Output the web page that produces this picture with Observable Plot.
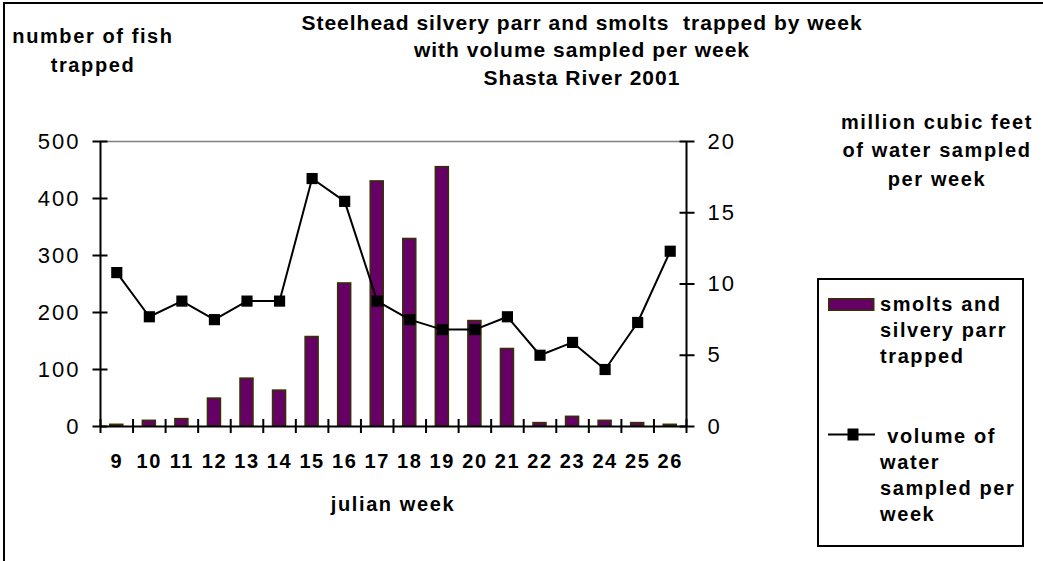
<!DOCTYPE html>
<html>
<head>
<meta charset="utf-8">
<script src="https://cdn.jsdelivr.net/npm/d3@7"></script>
<script src="https://cdn.jsdelivr.net/npm/@observablehq/plot@0.6"></script>
<style>
  html, body { margin: 0; padding: 0; background: #fff; }
  #wrap { position: relative; width: 1043px; height: 561px; overflow: hidden;
          font-family: "Liberation Sans", Arial, sans-serif; color: #000; }
  #frame { position: absolute; left: 3px; top: 2px; width: 1100px; height: 600px;
           border-top: 2px solid #000; border-left: 2px solid #000; }
  #chart { position: absolute; left: 0; top: 0; }
  .lbl { position: absolute; font-weight: bold; font-size: 20px; letter-spacing: 1.6px;
         text-align: center; white-space: pre; }
  #title { left: 232px; width: 700px; top: 8.5px; line-height: 27.5px; font-size: 21px; letter-spacing: 1px; }
  #ylab { left: 0px; width: 186px; top: 21.6px; line-height: 29px; }
  #y2lab { left: 837px; width: 200px; top: 108.2px; line-height: 28.3px; }
  #xlab { left: 293px; width: 200px; top: 491.1px; line-height: 26px; }
  #legend { position: absolute; left: 817px; top: 278px; width: 203px; height: 265px;
            border: 2px solid #000; }
  .legtxt { position: absolute; left: 61px; font-weight: bold; font-size: 20px;
            letter-spacing: 1.6px; line-height: 26px; white-space: pre; text-align: left; }
  .legsym { position: absolute; left: 8px; }
  #chart g[aria-label="y-axis tick label"] text { letter-spacing: 2px; }
  #chart g[aria-label="x-axis tick label"] text { letter-spacing: 1.6px; }
</style>
</head>
<body>
<div id="wrap">
  <div id="frame"></div>
  <div id="chart"></div>
  <div id="title" class="lbl"></div>
  <div id="ylab" class="lbl"></div>
  <div id="y2lab" class="lbl"></div>
  <div id="xlab" class="lbl"></div>
  <div id="legend">
    <svg class="legsym" style="top:17px" width="50" height="16">
      <rect x="1.75" y="1.75" width="45" height="11.5" fill="#660066" stroke="#333300" stroke-width="1.5"></rect>
    </svg>
    <div class="legtxt" id="leg1" style="top:10.8px"></div>
    <svg class="legsym" style="top:146px" width="50" height="16">
      <line x1="1" y1="8.5" x2="48" y2="8.5" stroke="#000" stroke-width="2"></line>
      <rect x="20.5" y="2.5" width="11" height="12" fill="#000"></rect>
    </svg>
    <div class="legtxt" id="leg2" style="top:142.8px"></div>
  </div>
</div>
<script>
// ---- data ----
const weeks = [9, 10, 11, 12, 13, 14, 15, 16, 17, 18, 19, 20, 21, 22, 23, 24, 25, 26];
const smolts = [3, 10, 13, 49, 84, 63, 157, 251, 430, 329, 455, 185, 136, 6, 17, 10, 6, 3];
const volume = [10.8, 7.7, 8.8, 7.5, 8.8, 8.8, 17.4, 15.8, 8.8, 7.5, 6.8, 6.8, 7.7, 5.0, 5.9, 4.0, 7.3, 12.3];
const leftTicks = [0, 100, 200, 300, 400, 500];
const rightTicks = [0, 5, 10, 15, 20];
const titleLines = ["Steelhead silvery parr and smolts  trapped by week", "with volume sampled per week", "Shasta River 2001"];
const yLabelLines = ["number of fish", "trapped"];
const y2LabelLines = ["million cubic feet", "of water sampled", "per week"];
const xLabel = "julian week";
const legendBars = ["smolts and", "silvery parr", "trapped"];
const legendLine = [" volume of", "water", "sampled per", "week"];

// right axis (0-20) mapped onto left axis (0-500)
const ratio = leftTicks[leftTicks.length - 1] / rightTicks[rightTicks.length - 1];

const data = weeks.map((w, i) => ({week: w, smolts: smolts[i], volume: volume[i]}));
const boundaries = d3.range(weeks.length + 1).map(i => weeks[0] - 0.5 + i);
const halfBar = 0.2;

document.getElementById("title").textContent = titleLines.join("\n");
document.getElementById("ylab").textContent = yLabelLines.join("\n");
document.getElementById("y2lab").textContent = y2LabelLines.join("\n");
document.getElementById("xlab").textContent = xLabel;
document.getElementById("leg1").textContent = legendBars.join("\n");
document.getElementById("leg2").textContent = legendLine.join("\n");

const chart = Plot.plot({
  width: 1043,
  height: 561,
  marginLeft: 100,
  marginRight: 357,
  marginTop: 141,
  marginBottom: 135,
  x: {type: "linear", domain: [boundaries[0], boundaries[boundaries.length - 1]]},
  y: {domain: [0, leftTicks[leftTicks.length - 1]]},
  style: {fontFamily: "'Liberation Sans', Arial, sans-serif", background: "transparent", color: "#000", overflow: "visible"},
  marks: [
    Plot.ruleY([leftTicks[leftTicks.length - 1]], {stroke: "#808080", strokeWidth: 1.5}),
    Plot.rect(data, {x1: d => d.week - halfBar, x2: d => d.week + halfBar, y1: 0, y2: "smolts",
                     fill: "#660066", stroke: "#333300", strokeWidth: 1.5}),
    Plot.line(data, {x: "week", y: d => d.volume * ratio, stroke: "#000", strokeWidth: 2}),
    Plot.dot(data, {x: "week", y: d => d.volume * ratio, symbol: "square", r: 6.3, fill: "#000", stroke: "none"}),
    Plot.ruleX([boundaries[0], boundaries[boundaries.length - 1]], {stroke: "#000", strokeWidth: 2}),
    Plot.ruleY([0], {stroke: "#000", strokeWidth: 2}),
    // left axis: cross ticks + labels
    Plot.axisY(leftTicks, {anchor: "left", tickSize: 15, dx: 7.5, fill: "none", stroke: "#000", strokeWidth: 2, label: null}),
    Plot.axisY(leftTicks, {anchor: "left", tickSize: 0, tickPadding: 20, fontSize: 22, label: null}),
    // right axis
    Plot.axisY(rightTicks.map(v => v * ratio), {anchor: "right", tickSize: 15, dx: -7.5, fill: "none", stroke: "#000", strokeWidth: 2, label: null}),
    Plot.axisY(rightTicks.map(v => v * ratio), {anchor: "right", tickSize: 0, tickPadding: 21, fontSize: 22,
                                                tickFormat: d => String(d / ratio), label: null}),
    // bottom axis: ticks at category boundaries, labels at centres
    Plot.axisX(boundaries, {anchor: "bottom", tickSize: 14, dy: -7, fill: "none", stroke: "#000", strokeWidth: 2, label: null}),
    Plot.axisX(weeks, {anchor: "bottom", tickSize: 0, tickPadding: 27, fontSize: 20, fontWeight: "bold",
                       tickFormat: d => String(d), label: null})
  ]
});
document.getElementById("chart").appendChild(chart);
</script>
</body>
</html>
